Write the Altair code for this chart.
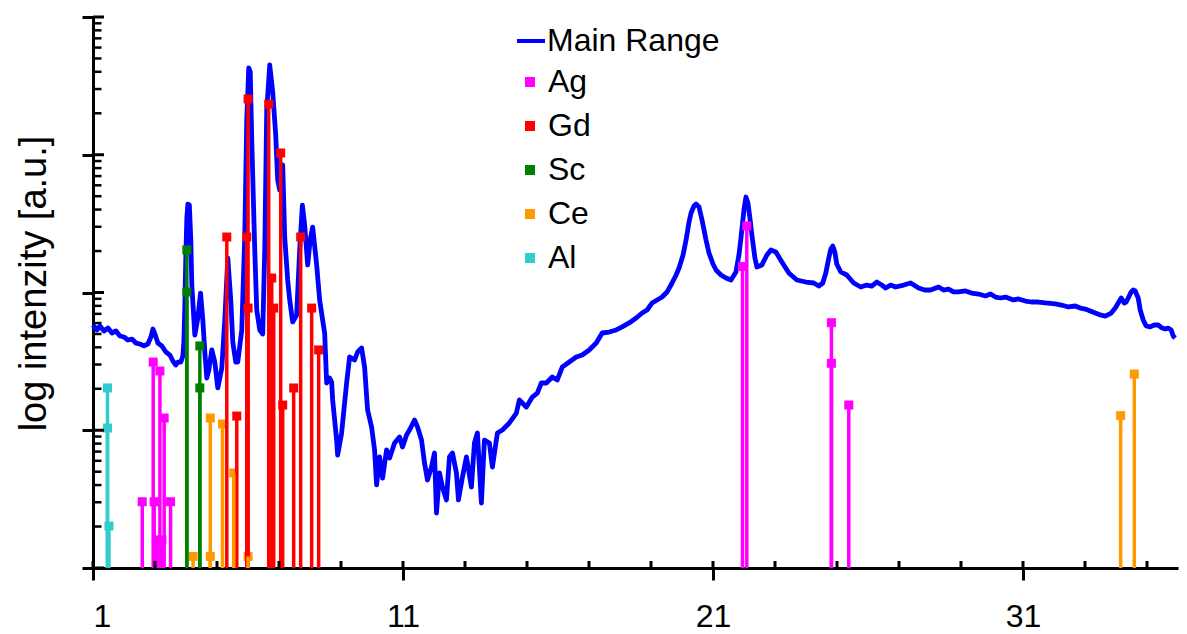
import altair as alt
import pandas as pd
import numpy as np

# ---- Main Range curve (2theta, log10 intensity) ----
two_theta = [1.000, 1.129, 1.225, 1.354, 1.483, 1.612, 1.741, 1.869, 1.998, 2.127,
             2.256, 2.385, 2.514, 2.643, 2.771, 2.868, 2.932, 2.997, 3.093, 3.222,
             3.351, 3.480, 3.577, 3.673, 3.738, 3.834, 3.899, 3.931, 3.963, 3.995,
             4.027, 4.060, 4.108, 4.156, 4.188, 4.285, 4.382, 4.469, 4.543, 4.607,
             4.672, 4.736, 4.833, 4.929, 5.026, 5.155, 5.251, 5.348, 5.444, 5.509,
             5.605, 5.670, 5.799, 5.895, 5.960, 6.024, 6.073, 6.121, 6.218, 6.282,
             6.379, 6.475, 6.540, 6.604, 6.701, 6.797, 6.894, 6.958, 7.023, 7.119,
             7.184, 7.280, 7.345, 7.441, 7.570, 7.667, 7.754, 7.828, 7.925, 8.005,
             8.086, 8.215, 8.311, 8.408, 8.473, 8.537, 8.634, 8.698, 8.731, 8.859,
             8.892, 9.020, 9.181, 9.278, 9.439, 9.536, 9.665, 9.761, 9.858, 9.987,
             10.083, 10.148, 10.245, 10.341, 10.470, 10.567, 10.728, 10.889, 10.985, 11.114,
             11.211, 11.372, 11.469, 11.597, 11.694, 11.790, 11.919, 12.016, 12.080, 12.177,
             12.273, 12.402, 12.499, 12.596, 12.724, 12.789, 12.918, 13.046, 13.207, 13.304,
             13.401, 13.529, 13.626, 13.787, 13.884, 14.045, 14.206, 14.431, 14.657, 14.754,
             14.979, 15.172, 15.333, 15.462, 15.623, 15.816, 15.977, 16.138, 16.363, 16.589,
             16.782, 17.007, 17.233, 17.426, 17.651, 17.877, 18.070, 18.295, 18.521, 18.714,
             18.875, 19.036, 19.197, 19.358, 19.519, 19.680, 19.809, 19.905, 20.034, 20.131,
             20.227, 20.292, 20.388, 20.453, 20.549, 20.646, 20.775, 20.871, 21.000, 21.097,
             21.258, 21.419, 21.580, 21.741, 21.837, 21.902, 21.998, 22.062, 22.127, 22.191,
             22.255, 22.352, 22.417, 22.578, 22.739, 22.868, 23.029, 23.222, 23.447, 23.705,
             23.995, 24.252, 24.413, 24.542, 24.639, 24.735, 24.800, 24.864, 24.929, 24.993,
             25.122, 25.315, 25.540, 25.766, 25.959, 26.120, 26.281, 26.442, 26.570, 26.731,
             26.892, 27.150, 27.375, 27.633, 27.826, 28.019, 28.276, 28.437, 28.598, 28.759,
             28.920, 29.146, 29.339, 29.564, 29.790, 29.951, 30.112, 30.273, 30.434, 30.691,
             30.852, 31.078, 31.271, 31.496, 31.721, 32.044, 32.237, 32.462, 32.688, 32.849,
             33.010, 33.171, 33.332, 33.493, 33.654, 33.847, 33.976, 34.072, 34.169, 34.265,
             34.330, 34.426, 34.491, 34.555, 34.620, 34.716, 34.781, 34.878, 34.974, 35.103,
             35.232, 35.361, 35.490, 35.587, 35.683, 35.780, 35.845, 35.909]
log_intensity = [1.764, 1.728, 1.757, 1.721, 1.742, 1.706, 1.721, 1.684, 1.677, 1.655,
                 1.662, 1.633, 1.626, 1.612, 1.626, 1.677, 1.735, 1.699, 1.633, 1.612,
                 1.568, 1.546, 1.503, 1.474, 1.495, 1.495, 1.539, 1.641, 1.909, 2.272,
                 2.541, 2.642, 2.635, 2.381, 2.054, 1.691, 1.815, 1.996, 1.800, 1.568,
                 1.379, 1.437, 1.583, 1.495, 1.307, 1.452, 1.800, 2.250, 1.946, 1.641,
                 1.495, 1.495, 1.728, 2.403, 3.252, 3.630, 3.601, 3.107, 2.309, 1.873,
                 1.728, 1.699, 2.309, 3.325, 3.652, 3.456, 3.143, 2.817, 2.744, 2.926,
                 2.403, 2.091, 1.946, 1.786, 1.837, 2.309, 2.635, 2.490, 2.200, 2.381,
                 2.475, 2.200, 1.946, 1.800, 1.706, 1.343, 1.379, 1.350, 1.220, 0.929,
                 0.820, 0.980, 1.343, 1.532, 1.510, 1.568, 1.597, 1.459, 1.147, 1.024,
                 0.857, 0.603, 0.806, 0.653, 0.857, 0.799, 0.907, 0.951, 0.878, 0.966,
                 1.002, 1.074, 1.024, 0.929, 0.762, 0.639, 0.733, 0.835, 0.399, 0.690,
                 0.588, 0.494, 0.806, 0.835, 0.690, 0.494, 0.661, 0.806, 0.588, 0.907,
                 0.980, 0.472, 0.929, 0.907, 0.733, 0.980, 1.002, 1.053, 1.125, 1.220,
                 1.169, 1.241, 1.270, 1.343, 1.343, 1.387, 1.365, 1.459, 1.495, 1.532,
                 1.546, 1.583, 1.633, 1.706, 1.713, 1.728, 1.750, 1.779, 1.815, 1.851,
                 1.873, 1.924, 1.946, 1.967, 2.004, 2.069, 2.127, 2.178, 2.272, 2.381,
                 2.512, 2.577, 2.628, 2.642, 2.621, 2.526, 2.381, 2.287, 2.207, 2.163,
                 2.127, 2.105, 2.091, 2.149, 2.272, 2.396, 2.599, 2.693, 2.650, 2.541,
                 2.417, 2.250, 2.185, 2.200, 2.272, 2.309, 2.294, 2.221, 2.142, 2.091,
                 2.076, 2.069, 2.047, 2.069, 2.142, 2.250, 2.316, 2.338, 2.294, 2.207,
                 2.149, 2.127, 2.069, 2.040, 2.054, 2.047, 2.076, 2.054, 2.033, 2.054,
                 2.040, 2.054, 2.069, 2.033, 2.018, 2.018, 2.040, 2.018, 2.025, 2.004,
                 2.004, 2.011, 1.996, 1.989, 1.975, 1.989, 1.967, 1.960, 1.967, 1.946,
                 1.953, 1.938, 1.931, 1.931, 1.924, 1.917, 1.909, 1.895, 1.902, 1.887,
                 1.880, 1.866, 1.851, 1.837, 1.829, 1.851, 1.887, 1.924, 1.960, 1.924,
                 1.931, 1.975, 2.004, 2.018, 2.011, 1.960, 1.873, 1.800, 1.757, 1.750,
                 1.764, 1.764, 1.742, 1.735, 1.742, 1.728, 1.684, 1.670]

# ---- Reference stick patterns (2theta, log10 intensity) ----
ag_x = [2.588, 2.942, 2.974, 3.061, 3.158, 3.222, 3.296, 3.502, 21.95, 22.09, 24.82, 24.82, 25.38]
ag_y = [0.481, 1.495, 0.481, 0.203, 1.430, 0.203, 1.089, 0.481, 2.189, 2.483, 1.781, 1.486, 1.183]
gd_x = [5.316, 5.638, 5.960, 6.002, 6.002, 6.668, 6.765, 6.829, 7.055, 7.119, 7.473, 7.699, 8.053, 8.279]
gd_y = [2.403, 1.103, 2.403, 3.405, 1.887, 3.368, 2.105, 1.887, 3.013, 1.183, 1.307, 2.403, 1.887, 1.583]
sc_x = [4.027, 4.027, 4.446, 4.446]
sc_y = [2.309, 2.004, 1.612, 1.307]
ce_x = [4.230, 4.784, 4.784, 5.177, 5.541, 6.002, 34.15, 34.59]
ce_y = [0.084, 1.089, 0.084, 1.045, 0.690, 0.084, 1.106, 1.408]
al_x = [1.467, 1.467, 1.515]
al_y = [1.307, 1.016, 0.305]

elements = ["Ag", "Gd", "Sc", "Ce", "Al"]
element_colors = ["#FF00FF", "#FF0000", "#008000", "#FF9900", "#33CCCC"]
series_name = ["Main Range"]
series_color = ["#0000FF"]

x_major_ticks = [1, 11, 21, 31]
x_inner_ticks = list(range(1, 36, 2))
y_major_ticks = [0, 1, 2, 3, 4]
y_minor_ticks = [k + float(np.log10(m)) for k in range(4) for m in range(2, 10)]

FONT = "Liberation Sans"

curve_df = pd.DataFrame({"x": two_theta, "y": log_intensity, "series": "Main Range"})
stick_frames = []
for name, xs, ys in [("Ag", ag_x, ag_y), ("Gd", gd_x, gd_y), ("Sc", sc_x, sc_y),
                     ("Ce", ce_x, ce_y), ("Al", al_x, al_y)]:
    stick_frames.append(pd.DataFrame({"x": xs, "y": ys, "element": name}))
stick_df = pd.concat(stick_frames, ignore_index=True)

XS = alt.Scale(domain=[1, 36], nice=False, zero=False)
YS = alt.Scale(domain=[0, 4], nice=False, zero=False)
XAX = alt.Axis(values=x_major_ticks, format="d", title=None, grid=False,
               tickSize=12, tickWidth=3, tickColor="black", domainWidth=3,
               domainColor="black", labelFontSize=32, labelFont=FONT,
               labelColor="black", labelPadding=21)
YAX = alt.Axis(values=y_major_ticks, labels=False, grid=False, tickSize=11,
               tickWidth=3, tickColor="black", domainWidth=3, domainColor="black",
               title="log intenzity [a.u.]", titleFont=FONT, titleFontSize=38,
               titleFontWeight="normal", titleColor="black", titleAngle=270,
               titleAlign="center", titleBaseline="alphabetic", titleX=-48, titleY=266)

elem_scale = alt.Scale(domain=elements, range=element_colors)
ELEM_LEGEND = alt.Legend(title=None, orient="none", legendX=421, legendY=49,
                         symbolType="square", symbolSize=100,
                         symbolStrokeWidth=0, symbolOpacity=1,
                         labelFontSize=32, labelFont=FONT, labelLimit=400,
                         labelColor="black", labelOffset=2,
                         rowPadding=12, padding=0)

line = alt.Chart(curve_df).mark_line(strokeWidth=4.8, strokeJoin="round").encode(
    x=alt.X("x:Q", scale=XS, axis=XAX),
    y=alt.Y("y:Q", scale=YS, axis=YAX),
    stroke=alt.Stroke("series:N", scale=alt.Scale(domain=series_name, range=series_color),
                      legend=alt.Legend(title=None, orient="none", legendX=422, legendY=8,
                                        symbolType="stroke", symbolSize=784,
                                        symbolStrokeWidth=4, labelFontSize=32,
                                        labelFont=FONT, labelColor="black",
                                        labelLimit=400, labelOffset=0, padding=0)),
)

squares = alt.Chart(stick_df).mark_square(size=81, opacity=1).encode(
    x=alt.X("x:Q", scale=XS, axis=XAX),
    y=alt.Y("y:Q", scale=YS, axis=YAX),
    color=alt.Color("element:N", scale=elem_scale, legend=ELEM_LEGEND),
)

rules = alt.Chart(stick_df).mark_rule(strokeWidth=3.5).encode(
    x=alt.X("x:Q", scale=XS, axis=XAX),
    y=alt.Y("y:Q", scale=YS, axis=YAX),
    y2=alt.datum(0),
    color=alt.Color("element:N", scale=elem_scale, legend=ELEM_LEGEND),
)

ytick_major_in = alt.Chart(pd.DataFrame({"t": y_major_ticks})).mark_rule(
    strokeWidth=3, color="black").encode(
    y=alt.Y("t:Q", scale=YS, axis=YAX), x=alt.value(0), x2=alt.value(11))
ytick_minor_in = alt.Chart(pd.DataFrame({"t": y_minor_ticks})).mark_rule(
    strokeWidth=2.5, color="black").encode(
    y=alt.Y("t:Q", scale=YS, axis=YAX), x=alt.value(0), x2=alt.value(8.5))
xtick_in = alt.Chart(pd.DataFrame({"t": x_inner_ticks})).mark_rule(
    strokeWidth=3, color="black").encode(
    x=alt.X("t:Q", scale=XS, axis=XAX), y=alt.value(551), y2=alt.value(544))

chart = alt.layer(line, squares, rules, ytick_major_in, ytick_minor_in, xtick_in).properties(
    width=1085, height=551,
    autosize=alt.AutoSizeParams(type="none"),
    padding={"left": 93, "top": 17, "right": 9, "bottom": 66},
).configure_view(stroke=None)

chart.save("out.html", embed_options={"renderer": "svg", "actions": False})
